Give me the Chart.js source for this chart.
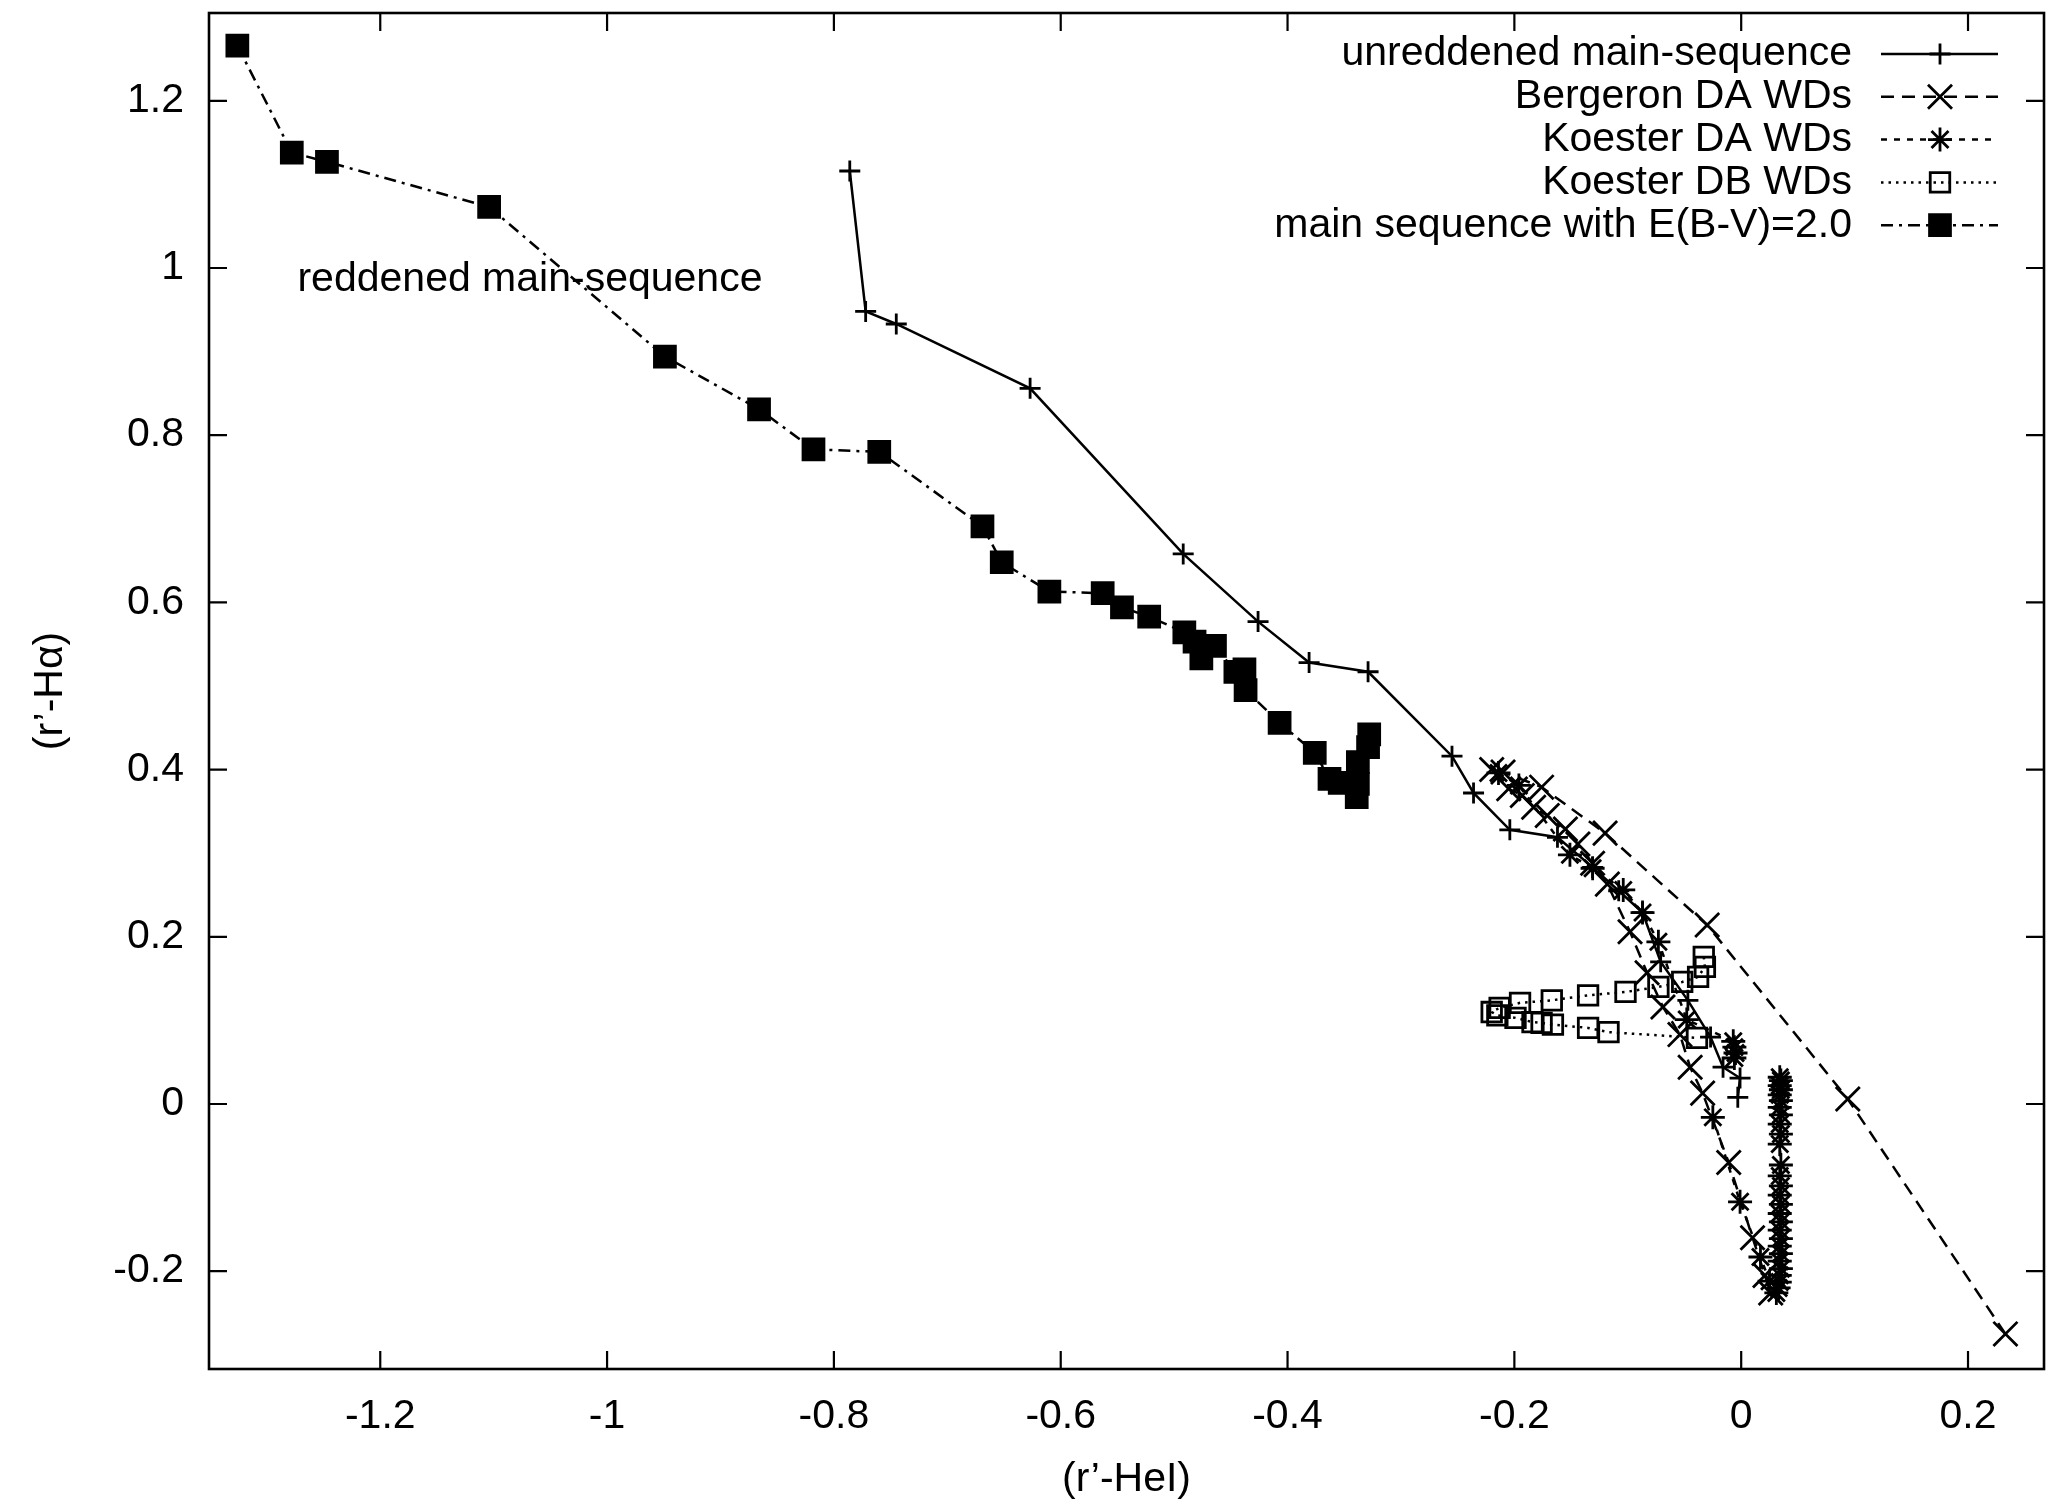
<!DOCTYPE html>
<html>
<head>
<meta charset="utf-8">
<script src="https://cdn.jsdelivr.net/npm/chart.js@4.4.1/dist/chart.umd.min.js"></script>
<style>
html, body { margin: 0; padding: 0; background: #fff; }
#wrap { width: 2048px; height: 1502px; }
</style>
</head>
<body>
<div id="wrap"><canvas id="chart" width="2048" height="1502"></canvas></div>
<script>
//! valores
const xTicks = [-1.2, -1, -0.8, -0.6, -0.4, -0.2, 0, 0.2]
const yTicks = [-0.2, 0, 0.2, 0.4, 0.6, 0.8, 1, 1.2]

const labels = ['unreddened main-sequence', 'Bergeron DA WDs', 'Koester DA WDs', 'Koester DB WDs', 'main sequence with E(B-V)=2.0']

const msX = [-0.786, -0.772, -0.745, -0.627, -0.492, -0.426, -0.381, -0.329, -0.255, -0.236, -0.204, -0.162, -0.131, -0.108, -0.087, -0.071, -0.047, -0.027, -0.016, -0.001, -0.003]
const msY = [1.116, 0.948, 0.933, 0.856, 0.658, 0.577, 0.528, 0.517, 0.416, 0.372, 0.328, 0.319, 0.283, 0.255, 0.229, 0.170, 0.124, 0.080, 0.044, 0.031, 0.008]

const bergX = [0.233, 0.094, -0.030, -0.120, -0.176, -0.210, -0.220, -0.205, -0.193, -0.183, -0.171, -0.155, -0.144, -0.131, -0.118, -0.098, -0.083, -0.069, -0.054, -0.045, -0.034, -0.011, 0.010, 0.021, 0.026]
const bergY = [-0.275, 0.006, 0.214, 0.324, 0.379, 0.397, 0.400, 0.377, 0.369, 0.355, 0.345, 0.329, 0.311, 0.288, 0.263, 0.206, 0.157, 0.116, 0.083, 0.044, 0.013, -0.070, -0.160, -0.205, -0.226]

// null = corte de linea entre tramos
const kdaX = [-0.214, -0.196, -0.151, -0.131, -0.104, -0.087, -0.073, -0.048, -0.007, -0.006, -0.005, -0.006, null,
  -0.025, -0.001, 0.017, 0.025, 0.031, 0.033, 0.034, 0.034, 0.035, 0.034, 0.035, 0.034, 0.035, 0.034, 0.035, 0.034, 0.035, 0.034, 0.035, 0.034, 0.035, 0.034, 0.035, 0.034, 0.035, 0.034, 0.035, 0.034, 0.035, 0.034, 0.035, 0.034]
const kdaY = [0.396, 0.381, 0.298, 0.282, 0.256, 0.229, 0.194, 0.101, 0.075, 0.068, 0.061, 0.055, null,
  -0.016, -0.117, -0.183, -0.212, -0.226, -0.220, -0.213, -0.205, -0.197, -0.188, -0.179, -0.170, -0.161, -0.151, -0.141, -0.131, -0.120, -0.109, -0.098, -0.086, -0.073, -0.048, -0.036, -0.024, -0.013, -0.004, 0.004, 0.011, 0.017, 0.022, 0.028, 0.032]

const kdbX = [-0.033, -0.032, -0.038, -0.052, -0.073, -0.102, -0.135, -0.167, -0.195, -0.213, -0.220, -0.215, -0.199, -0.184, -0.176, -0.166, -0.135, -0.117, -0.039]
const kdbY = [0.176, 0.164, 0.152, 0.146, 0.140, 0.134, 0.130, 0.124, 0.121, 0.115, 0.110, 0.106, 0.103, 0.098, 0.097, 0.095, 0.091, 0.086, 0.079]

const redX = [-1.326, -1.278, -1.247, -1.104, -0.949, -0.866, -0.818, -0.760, -0.669, -0.652, -0.610, -0.563, -0.546, -0.522, -0.491, -0.482, -0.476, -0.464, -0.446, -0.438, -0.437, -0.407, -0.376, -0.363, -0.354, -0.339, -0.338, -0.338, -0.329, -0.328]
const redY = [1.266, 1.138, 1.127, 1.073, 0.894, 0.831, 0.783, 0.780, 0.691, 0.648, 0.613, 0.611, 0.594, 0.583, 0.564, 0.553, 0.533, 0.548, 0.517, 0.520, 0.495, 0.456, 0.420, 0.389, 0.384, 0.367, 0.383, 0.409, 0.427, 0.442]

const noteText = 'reddened main-sequence'
const notePos = [-1.273, 0.986]

const FONT = '"Liberation Sans", Arial, Helvetica, sans-serif'
Chart.defaults.font.family = FONT
Chart.defaults.color = '#000'

//! arma los puntos x,y
function toPoints(xs, ys){
    return xs.map((x, i) => ({x: x, y: ys[i]}))
}

function fmtTick(v){
    return String(parseFloat(Number(v).toFixed(2)))
}

//! quita el relleno extra que chart.js agrega por las etiquetas
function noPad(s){
    s.paddingTop = 0
    s.paddingBottom = 0
    s.paddingLeft = 0
    s.paddingRight = 0
}

//! marco con ticks hacia adentro, como gnuplot
const framePlugin = {
    id: 'frame',
    beforeDatasetsDraw(chart){
        const {ctx, chartArea: a, scales} = chart
        ctx.save()
        ctx.strokeStyle = '#000'
        ctx.lineWidth = 2.6
        ctx.setLineDash([])
        ctx.strokeRect(a.left, a.top, a.right - a.left, a.bottom - a.top)
        ctx.lineWidth = 2.2
        const len = 18
        ctx.beginPath()
        xTicks.forEach(v => {
            const px = scales.x.getPixelForValue(v)
            ctx.moveTo(px, a.bottom); ctx.lineTo(px, a.bottom - len)
            ctx.moveTo(px, a.top); ctx.lineTo(px, a.top + len)
        })
        yTicks.forEach(v => {
            const py = scales.y.getPixelForValue(v)
            ctx.moveTo(a.left, py); ctx.lineTo(a.left + len, py)
            ctx.moveTo(a.right, py); ctx.lineTo(a.right - len, py)
        })
        ctx.stroke()
        ctx.restore()
    }
}

//! leyenda estilo gnuplot (texto a la izquierda, muestra a la derecha) + nota
const keyPlugin = {
    id: 'gpkey',
    afterDraw(chart){
        const {ctx, scales} = chart
        ctx.save()
        ctx.font = '41px ' + FONT
        ctx.fillStyle = '#000'
        ctx.textBaseline = 'middle'
        chart.data.datasets.forEach((ds, i) => {
            const y = 54 + i * 42.8
            ctx.textAlign = 'right'
            ctx.fillText(ds.label, 1852, y)
            ctx.strokeStyle = '#000'
            ctx.lineWidth = ds.borderWidth
            ctx.setLineDash(ds.borderDash || [])
            ctx.beginPath()
            ctx.moveTo(1881, y); ctx.lineTo(1998, y)
            ctx.stroke()
            ctx.setLineDash([])
            ctx.lineWidth = ds.pointBorderWidth
            ctx.fillStyle = ds.pointBackgroundColor
            Chart.helpers.drawPoint(ctx, {pointStyle: ds.pointStyle, radius: ds.pointRadius, rotation: 0, borderWidth: ds.pointBorderWidth}, 1940, y)
            ctx.fillStyle = '#000'
        })
        ctx.textAlign = 'left'
        ctx.fillText(noteText, scales.x.getPixelForValue(notePos[0]), scales.y.getPixelForValue(notePos[1]))
        ctx.restore()
    }
}

function makeSet(label, xs, ys, dash, style, radius, fill){
    return {
        label,
        data: toPoints(xs, ys),
        showLine: true,
        spanGaps: false,
        borderColor: '#000',
        borderWidth: 2.5,
        borderDash: dash,
        pointStyle: style,
        pointRadius: radius,
        pointHoverRadius: radius,
        pointBorderWidth: 2.8,
        pointBorderColor: '#000',
        pointBackgroundColor: fill,
        tension: 0
    }
}

const ctxChart = document.getElementById('chart').getContext('2d')
const myChart = new Chart(ctxChart, {
    type: 'scatter',
    data: {
        datasets: [
            makeSet(labels[0], msX, msY, [], 'cross', 10.5, 'rgba(0,0,0,0)'),
            makeSet(labels[1], bergX, bergY, [13, 8], 'crossRot', 17, 'rgba(0,0,0,0)'),
            makeSet(labels[2], kdaX, kdaY, [6, 7], 'star', 12, 'rgba(0,0,0,0)'),
            makeSet(labels[3], kdbX, kdbY, [2.5, 5], 'rect', 13.8, 'rgba(0,0,0,0)'),
            makeSet(labels[4], redX, redY, [12, 6, 3, 6], 'rect', 14.8, '#000')
        ]
    },
    options: {
        responsive: false,
        animation: false,
        devicePixelRatio: 1,
        layout: {autoPadding: false, padding: {top: 13, right: 4, left: 0, bottom: 0}},
        plugins: {legend: {display: false}, tooltip: {enabled: false}},
        scales: {
            x: {
                type: 'linear',
                min: -1.351,
                max: 0.267,
                afterBuildTicks: s => { s.ticks = xTicks.map(v => ({value: v})) },
                afterFit: s => { s.height = 133; noPad(s) },
                grid: {display: false, drawTicks: false},
                border: {display: false},
                ticks: {font: {size: 41}, color: '#000', padding: 23, maxRotation: 0, callback: v => fmtTick(v)},
                title: {display: true, text: '(r’-HeI)', color: '#000', font: {size: 41, lineHeight: 1}, padding: {top: 0, bottom: 2}}
            },
            y: {
                type: 'linear',
                min: -0.317,
                max: 1.305,
                afterBuildTicks: s => { s.ticks = yTicks.map(v => ({value: v})) },
                afterFit: s => { s.width = 209; noPad(s) },
                grid: {display: false, drawTicks: false},
                border: {display: false},
                ticks: {font: {size: 41}, color: '#000', padding: 25, callback: v => fmtTick(v)},
                title: {display: true, text: '(r’-Hα)', color: '#000', font: {size: 41, lineHeight: 1}, padding: {top: 30, bottom: 0}}
            }
        }
    },
    plugins: [framePlugin, keyPlugin]
})
</script>
</body>
</html>
